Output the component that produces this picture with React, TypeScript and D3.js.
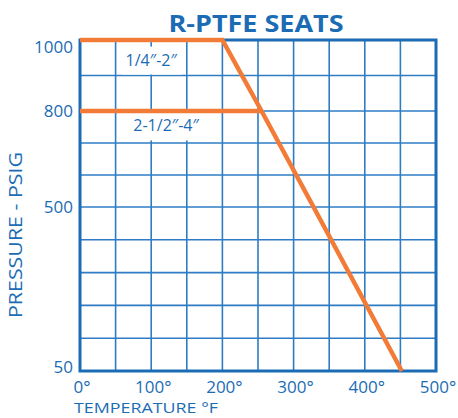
import * as d3 from 'd3';
import React, { useRef, useEffect } from 'react';

// temperatures (°F) and pressures (psig)
const xTicks = [0, 100, 200, 300, 400, 500];
const xGrid = [0, 50, 100, 150, 200, 250, 300, 350, 400, 450, 500];
const yTicks = [50, 500, 800, 1000];
const yGrid = [50, 140, 230, 320, 410, 500, 600, 700, 800, 900, 1000];

const smallTemp = [0, 200, 255, 328, 452];
const smallPress = [1000, 1000, 800, 500, 50];
const largeTemp = [0, 255];
const largePress = [800, 800];

const seriesNames = ['1/4\u2033-2\u2033', '2-1/2\u2033-4\u2033'];
const labelTemp = [100, 121];
const labelPress = [928, 736];

const W = 458;
const H = 418;
const margin = { top: 40, right: 22, bottom: 47, left: 80 };
const blue = '#1b6cb4';
const gridBlue = '#2e7cc4';
const orange = '#f37b38';
const font = 'Open Sans';

function App() {
  const ref = useRef<SVGSVGElement>(null);

  useEffect(() => {
    const svg = d3.select(ref.current);
    svg.selectAll('*').remove();

    const x = d3.scaleLinear().domain([0, 500]).range([margin.left, W - margin.right]);
    // the chart's pressure axis is not evenly spaced, so piecewise
    const y = d3.scaleLinear().domain([50, 500, 800, 1000]).range([H - margin.bottom, 207, 111, margin.top]);

    const grid = svg.append('g');
    grid.selectAll('line.v')
      .data(xGrid)
      .enter().append('line')
      .attr('x1', d => x(d)).attr('x2', d => x(d))
      .attr('y1', y(1000)).attr('y2', y(50))
      .attr('stroke', gridBlue).attr('stroke-width', 1.6);
    grid.selectAll('line.h')
      .data(yGrid)
      .enter().append('line')
      .attr('x1', x(0)).attr('x2', x(500))
      .attr('y1', d => y(d)).attr('y2', d => y(d))
      .attr('stroke', gridBlue).attr('stroke-width', 1.6);

    // frame
    svg.append('rect')
      .attr('x', x(0)).attr('y', y(1000))
      .attr('width', x(500) - x(0)).attr('height', y(50) - y(1000))
      .attr('fill', 'none').attr('stroke', blue).attr('stroke-width', 3);

    // series labels with white boxes
    const lab = svg.append('g');
    seriesNames.forEach((name, i) => {
      const g = lab.append('g');
      const t = g.append('text')
        .attr('x', x(labelTemp[i])).attr('y', y(labelPress[i]))
        .attr('text-anchor', 'middle')
        .attr('fill', blue)
        .style('font-family', font).style('font-size', '16px')
        .text(name);
      const b = (t.node() as SVGTextElement).getBBox();
      g.insert('rect', 'text')
        .attr('x', b.x - 4).attr('y', b.y - 2)
        .attr('width', b.width + 8).attr('height', b.height + 6)
        .attr('fill', 'white');
    });

    const path = (ts: number[], ps: number[]) =>
      d3.line<number>().x(d => x(d)).y((d, i) => y(ps[i]))(ts);

    svg.append('path')
      .attr('d', path(largeTemp, largePress))
      .attr('fill', 'none').attr('stroke', orange).attr('stroke-width', 4.5);
    svg.append('path')
      .attr('d', path(smallTemp, smallPress))
      .attr('fill', 'none').attr('stroke', orange).attr('stroke-width', 4.5)
      .attr('stroke-linejoin', 'miter');

    // y tick labels
    svg.selectAll('text.yt')
      .data(yTicks)
      .enter().append('text')
      .attr('x', margin.left - 7)
      .attr('y', d => Math.min(Math.max(y(d), 47), H - margin.bottom - 4))
      .attr('dy', '0.36em')
      .attr('text-anchor', 'end')
      .attr('fill', blue)
      .style('font-family', font).style('font-size', '17px')
      .text(d => d);

    // x tick labels
    svg.selectAll('text.xt')
      .data(xTicks)
      .enter().append('text')
      .attr('x', d => x(d) + 2)
      .attr('y', 393)
      .attr('text-anchor', 'middle')
      .attr('fill', blue)
      .style('font-family', font).style('font-size', '17px')
      .text(d => d + '°');

    svg.append('text')
      .attr('x', 74).attr('y', 413)
      .attr('fill', blue)
      .attr('textLength', 144).attr('lengthAdjust', 'spacingAndGlyphs')
      .style('font-family', font).style('font-size', '15px')
      .text('TEMPERATURE °F');

    svg.append('text')
      .attr('transform', 'translate(22,235) rotate(-90)')
      .attr('text-anchor', 'middle')
      .attr('fill', blue)
      .attr('textLength', 166).attr('lengthAdjust', 'spacingAndGlyphs')
      .style('font-family', font).style('font-size', '19px')
      .text('PRESSURE - PSIG');

    svg.append('text')
      .attr('x', 256).attr('y', 32)
      .attr('text-anchor', 'middle')
      .attr('fill', blue)
      .attr('textLength', 175).attr('lengthAdjust', 'spacingAndGlyphs')
      .style('font-family', font).style('font-size', '24px').style('font-weight', 'bold')
      .text('R-PTFE SEATS');
  });

  return (
    <svg ref={ref} width={W} height={H}
      style={{ position: 'absolute', left: 0, top: 0, background: 'white' }}>
    </svg>
  );
}

export default App;
